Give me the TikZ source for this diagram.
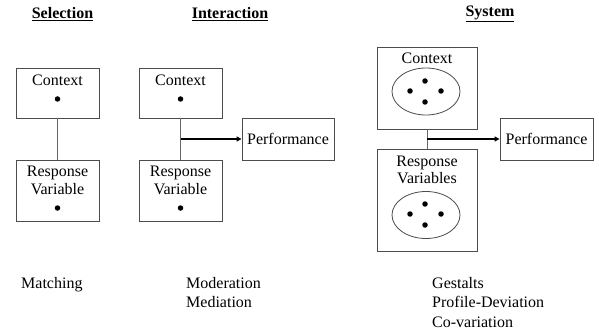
\documentclass[tikz,border=0pt]{standalone}
\usepackage{fontspec}
\setmainfont{Liberation Serif}
\usetikzlibrary{arrows.meta,shapes.geometric}
\begin{document}
\begin{tikzpicture}[x=1pt,y=-1pt,
  box/.style={draw=black!70,line width=0.9pt,minimum width=#1,inner sep=0pt},
  txt/.style={font=\fontsize{16}{17.5}\selectfont,inner sep=0pt,align=center},
  btxt/.style={font=\fontsize{16}{19.5}\selectfont,inner sep=0pt,align=left,anchor=north west},
  ttl/.style={font=\fontsize{16}{18}\selectfont\bfseries,inner sep=0pt},
  link/.style={draw=black!60,line width=0.9pt},
  arr/.style={draw=black,line width=1.6pt,-{Triangle[length=5pt,width=5pt]}},
  dot/.style={circle,fill=black,inner sep=0pt,minimum size=5.5pt},
  oval/.style={ellipse,draw=black!70,line width=0.8pt,minimum width=68pt,minimum height=47pt,inner sep=0pt}]
\useasboundingbox (0,0) rectangle (599,334);
% titles
\node[ttl] (tS) at (62.5,14) {\underline{Selection}};
\node[ttl] (tI) at (230,14) {\underline{Interaction}};
\node[ttl] (tY) at (490,14) {\underline{System}};
% Selection
\node[box=83pt,minimum height=50pt] (ctxS) at (57.5,93) {};
\node[box=83pt,minimum height=61pt] (respS) at (57.5,190.5) {};
\node[txt] (ctxSl) at (57.5,80) {Context};
\node[dot] (ctxSd) at (57.5,99) {};
\node[txt] (respSl) at (57.5,180.5) {Response\\Variable};
\node[dot] (respSd) at (57.5,208) {};
\draw[link] (ctxS) -- (respS);
% Interaction
\node[box=83pt,minimum height=50pt] (ctxI) at (180.5,93) {};
\node[box=83pt,minimum height=61pt] (respI) at (180.5,190.5) {};
\node[txt] (ctxIl) at (180.5,80) {Context};
\node[dot] (ctxId) at (180.5,99) {};
\node[txt] (respIl) at (180.5,180.5) {Response\\Variable};
\node[dot] (respId) at (180.5,208) {};
\node[box=92pt,minimum height=42pt,txt] (perfI) at (288,139) {Performance};
\draw[link] (ctxI) -- (respI);
\coordinate (jI) at (180.5,139);
\draw[arr] (jI) -- (perfI);
% System
\node[box=100pt,minimum height=82pt] (ctxY) at (427,88) {};
\node[box=100pt,minimum height=102pt] (respY) at (427,200) {};
\node[txt] (ctxYl) at (427,58) {Context};
\node[oval] (ovC) at (426,91.5) {};
\node[dot] (c1) at (425,81) {};
\node[dot] (c2) at (410,91) {};
\node[dot] (c3) at (441,91) {};
\node[dot] (c4) at (425,102) {};
\node[txt] (respYl) at (427,170) {Response\\Variables};
\node[oval] (ovR) at (426,215) {};
\node[dot] (r1) at (425,204) {};
\node[dot] (r2) at (410,214) {};
\node[dot] (r3) at (441,214) {};
\node[dot] (r4) at (425,225) {};
\node[box=93pt,minimum height=42pt,txt] (perfY) at (546.5,139) {Performance};
\draw[link] (ctxY) -- (respY);
\coordinate (jY) at (427,139);
\draw[arr] (jY) -- (perfY);
% bottom texts
\node[btxt] (mS) at (21,277) {Matching};
\node[btxt] (mI) at (186,277) {Moderation\\Mediation};
\node[btxt] (mY) at (432,277) {Gestalts\\Profile-Deviation\\Co-variation};
\end{tikzpicture}
\end{document}
